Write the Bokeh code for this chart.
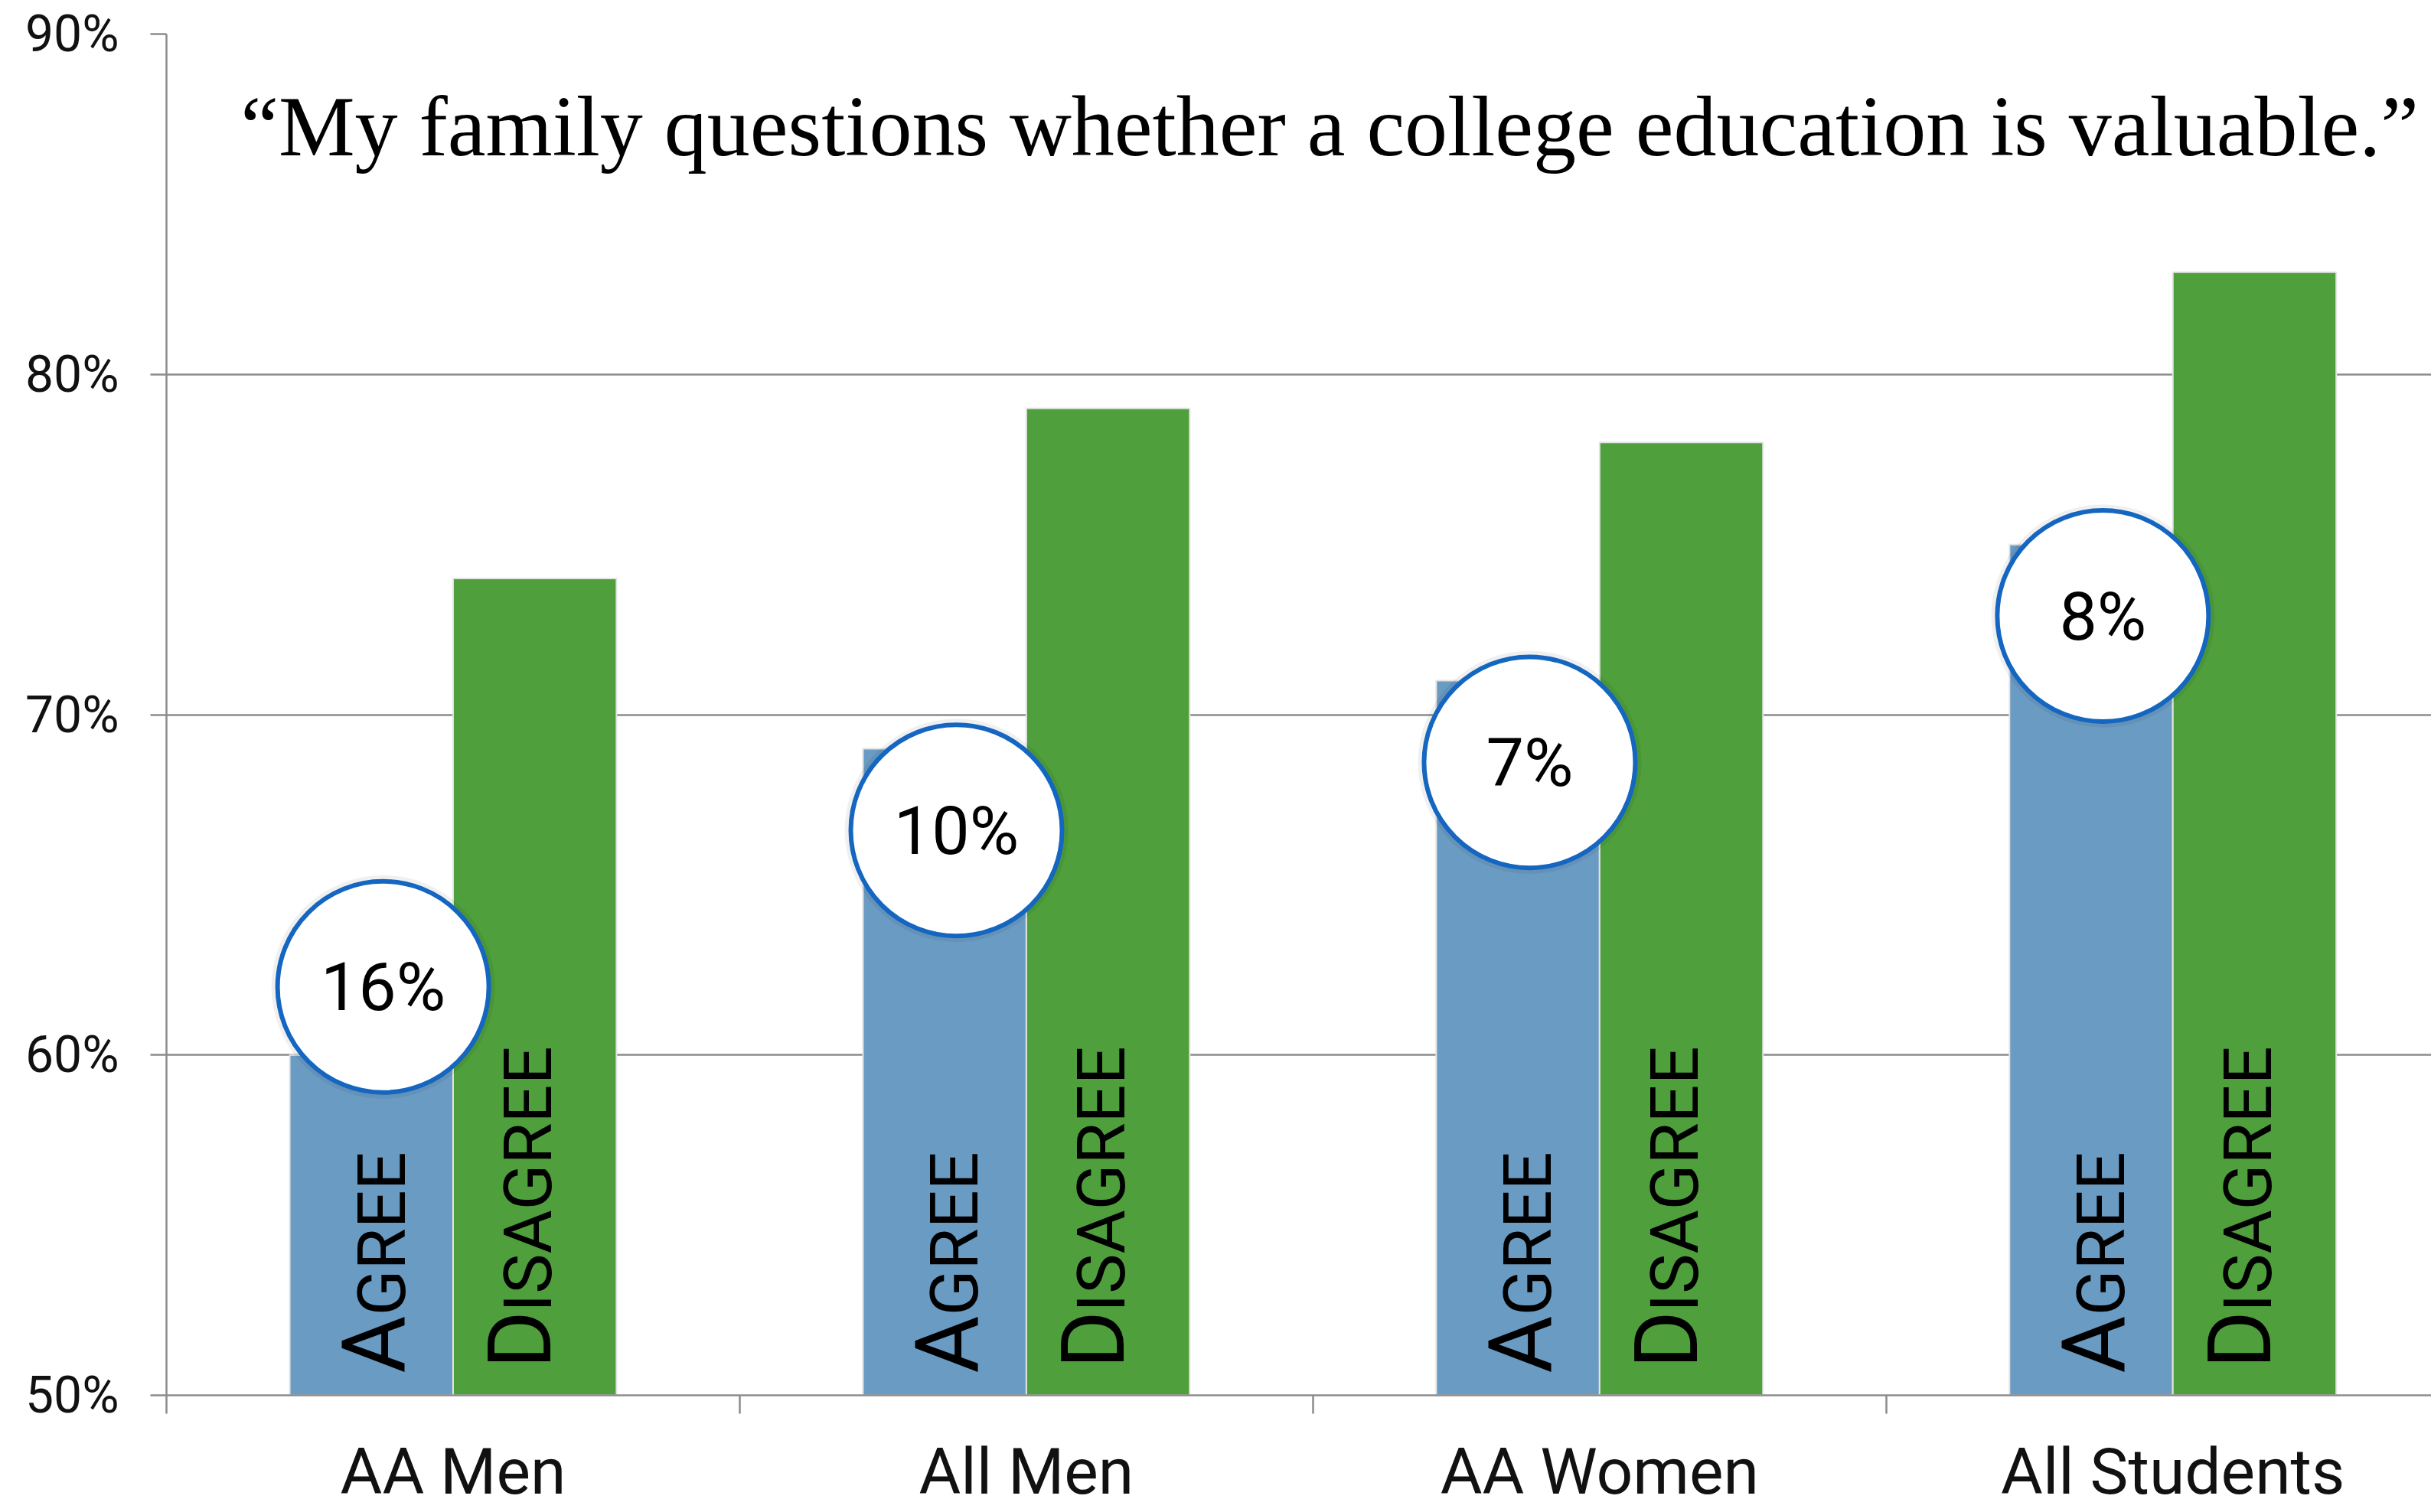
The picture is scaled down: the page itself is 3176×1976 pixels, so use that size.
import numpy as np
from bokeh.plotting import figure
from bokeh.models import Range1d, FixedTicker, PrintfTickFormatter, Label
from bokeh.core.properties import value
from bokeh.embed import file_html
from bokeh.resources import INLINE

# ---- data ----
categories = ["AA Men", "All Men", "AA Women", "All Students"]
agree = [60, 69, 71, 75]
disagree = [74, 79, 78, 83]
gap_labels = ["16%", "10%", "7%", "8%"]
bubble_y = [62.0, 66.6, 68.6, 72.9]
y_ticks = [50, 60, 70, 80, 90]
title_text = "\u201cMy family questions whether a college education is valuable.\u201d"

# ---- style ----
SANS = "Roboto"
SERIF = "Liberation Serif"
GRID = "#8c8c8c"
BLUE = "#6a9bc3"
GREEN = "#4f9f3c"
RING = "#1466c0"
BIG = 115
SMALL = 88
MID = 0.355      # cap-centre height above baseline (em)

idx = np.arange(len(categories))
BAR_W = 0.285
agree_x = idx + 0.5 - BAR_W / 2
disagree_x = idx + 0.5 + BAR_W / 2
bubble_x = idx + 0.378
base = [y_ticks[0]] * len(categories)

p = figure(width=3176, height=1976, output_backend="svg", toolbar_location=None,
           x_range=Range1d(0, 3.951), y_range=Range1d(y_ticks[0], y_ticks[-1]),
           min_border_left=217, min_border_right=0, min_border_top=44,
           min_border_bottom=153, outline_line_color=None)

p.xgrid.visible = False
p.ygrid.ticker = FixedTicker(ticks=y_ticks)
p.ygrid.grid_line_color = GRID
p.ygrid.grid_line_width = 2.5

# y axis
yax = p.yaxis[0]
yax.ticker = FixedTicker(ticks=y_ticks)
yax.formatter = PrintfTickFormatter(format="%d%%")
yax.axis_line_color = GRID
yax.axis_line_width = 2.5
yax.major_tick_line_color = GRID
yax.major_tick_line_width = 2.5
yax.major_tick_out = 21
yax.major_tick_in = 0
yax.minor_tick_line_color = None
yax.major_label_standoff = 41
yax.major_label_text_font = SANS
yax.major_label_text_font_size = "66px"
yax.major_label_text_color = "#111111"

# x axis: labels at category centres, separators as minor ticks
xax = p.xaxis[0]
xax.ticker = FixedTicker(ticks=[float(i) + 0.5 for i in idx],
                         minor_ticks=[float(i) for i in range(len(categories) + 1)])
xax.major_label_overrides = {float(i) + 0.5: c for i, c in zip(idx, categories)}
xax.axis_line_color = GRID
xax.axis_line_width = 2.5
xax.major_tick_line_color = None
xax.major_tick_out = 0
xax.major_tick_in = 0
xax.minor_tick_line_color = GRID
xax.minor_tick_line_width = 2.5
xax.minor_tick_out = 24
xax.minor_tick_in = 0
xax.major_label_standoff = 26
xax.major_label_text_font = SANS
xax.major_label_text_font_size = "84px"
xax.major_label_text_color = "#111111"

# bars
p.vbar(x=agree_x, top=agree, bottom=base, width=BAR_W,
       fill_color=BLUE, line_color="#e4e4e4", line_width=2)
p.vbar(x=disagree_x, top=disagree, bottom=base, width=BAR_W,
       fill_color=GREEN, line_color="#e4e4e4", line_width=2)

# vertical small-caps labels inside bars (baselines share one line)
A_ADV = 0.652   # advance of "A" in Roboto (em)
D_ADV = 0.642   # advance of "D" in Roboto (em)
AG_BASE, DIS_BASE = 44, 22      # baseline offset from bar centre (px)
AG_START, DIS_START = -29, -35  # start above the axis (px)
common = dict(angle=np.pi / 2, text_font=value(SANS), text_align="left",
              text_baseline="middle", text_color="black")
p.text(x=agree_x, y=base, text=["A"] * 4, x_offset=AG_BASE - MID * BIG,
       y_offset=AG_START, text_font_size=f"{BIG}px", **common)
p.text(x=agree_x, y=base, text=["GREE"] * 4, x_offset=AG_BASE - MID * SMALL,
       y_offset=AG_START - A_ADV * BIG, text_font_size=f"{SMALL}px", **common)
p.text(x=disagree_x, y=base, text=["D"] * 4, x_offset=DIS_BASE - MID * BIG,
       y_offset=DIS_START, text_font_size=f"{BIG}px", **common)
p.text(x=disagree_x, y=base, text=["ISAGREE"] * 4, x_offset=DIS_BASE - MID * SMALL,
       y_offset=DIS_START - D_ADV * BIG, text_font_size=f"{SMALL}px", **common)

# bubbles with the gap values
p.scatter(x=bubble_x, y=bubble_y, marker="circle", size=292,
          fill_color="black", fill_alpha=0.06, line_color=None)
p.scatter(x=bubble_x, y=bubble_y, marker="circle", size=276,
          fill_color="white", line_color=RING, line_width=6)
p.text(x=bubble_x, y=bubble_y, text=gap_labels, text_font=value(SANS),
       text_font_size="88px", text_align="center", text_baseline="middle",
       text_color="black")

# quotation title inside the plot area
p.add_layout(Label(x=2.029, y=87.3, text=title_text, text_font=SERIF,
                   text_font_size="112px", text_align="center",
                   text_baseline="middle", text_color="black"))

open("out.html", "w").write(file_html(p, INLINE))
